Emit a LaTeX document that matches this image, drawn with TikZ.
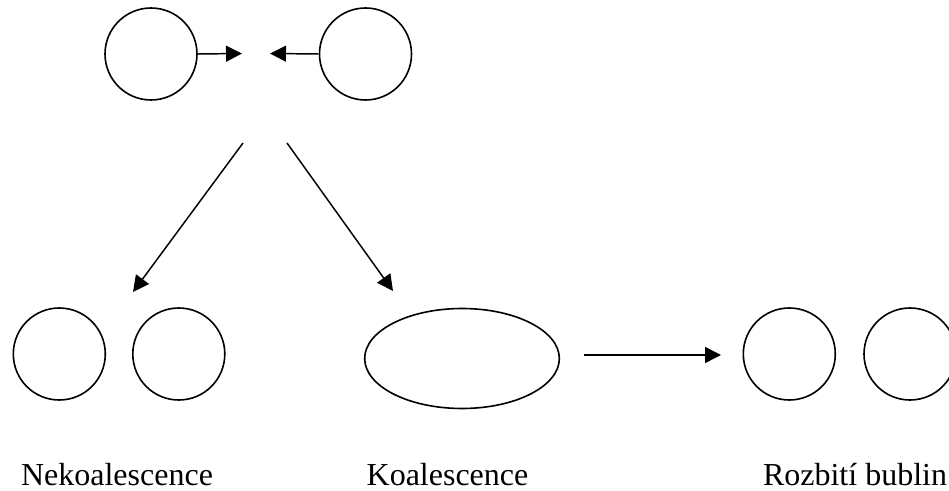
\documentclass[tikz,border=0pt]{standalone}
\usepackage{fontspec}
\setmainfont{Liberation Serif}
\usetikzlibrary{shapes.geometric,arrows.meta}
\begin{document}
\begin{tikzpicture}[x=0.75pt,y=-0.75pt,
  bubble/.style={draw,circle,line width=1.2pt,minimum size=69pt,inner sep=0pt},
  drop/.style={draw,ellipse,line width=1.2pt,minimum width=146pt,minimum height=75pt,inner sep=0pt},
  arr/.style={line width=1.1pt,-{Triangle[length=12pt,width=12pt]}},
  lbl/.style={font=\fontsize{24pt}{28pt}\selectfont,anchor=base,inner sep=0pt}]
\useasboundingbox (0,0) rectangle (949,491);
% top
\node[bubble] (a1) at (151,54) {};
\node[bubble] (a2) at (365.5,54) {};
\coordinate (t1) at (242,53.5);
\coordinate (t2) at (270,53.5);
\draw[arr] (a1.east) -- (t1);
\draw[arr] (a2.west) -- (t2);
% diagonals
\coordinate (d1s) at (243,143);
\coordinate (d1e) at (133,292);
\coordinate (d2s) at (287,143);
\coordinate (d2e) at (393,291);
\draw[arr] (d1s) -- (d1e);
\draw[arr] (d2s) -- (d2e);
% bottom
\node[bubble] (b1) at (59.3,354) {};
\node[bubble] (b2) at (178.8,354) {};
\node[drop] (e) at (462,358.5) {};
\coordinate (h1) at (584,355);
\coordinate (h2) at (721,355);
\draw[arr] (h1) -- (h2);
\node[bubble] (r1) at (789.3,354) {};
\node[bubble] (r2) at (910,354) {};
% labels
\node[lbl] (l1) at (117,485) {Nekoalescence};
\node[lbl] (l2) at (447.5,485) {Koalescence};
\node[lbl] (l3) at (855,485) {Rozbití bublin};
\end{tikzpicture}
\end{document}
